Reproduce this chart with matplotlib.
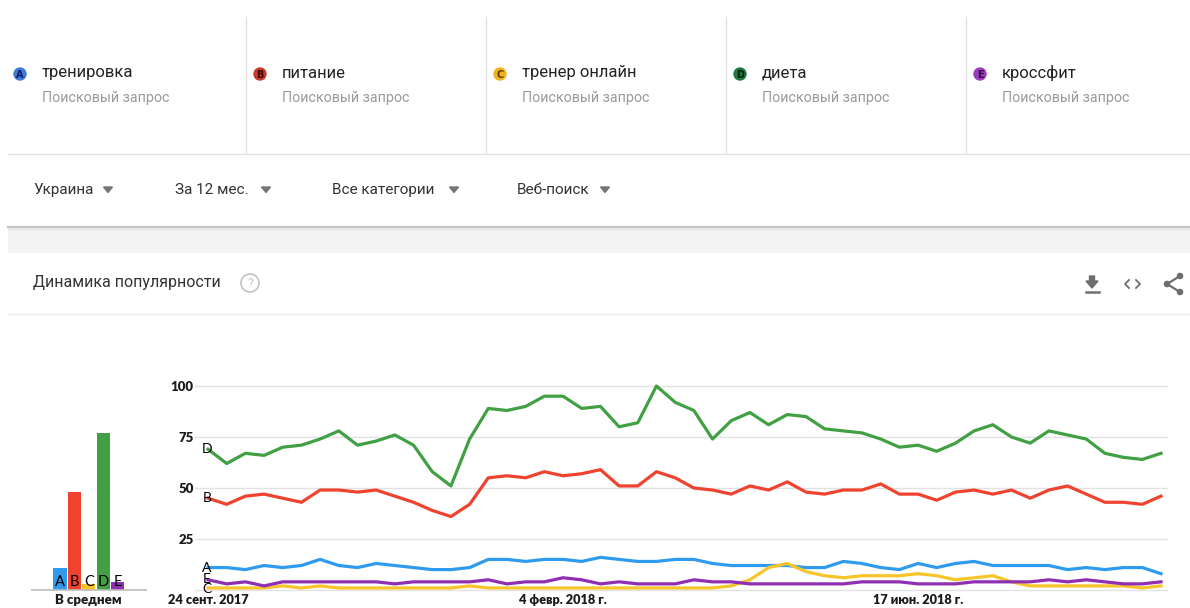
#!/usr/bin/env python3
import matplotlib
matplotlib.use("Agg")
import matplotlib.pyplot as plt
from matplotlib.patches import Circle, Polygon, Rectangle

plt.rcParams['font.family'] = ['Roboto', 'DejaVu Sans']

W, H = 1190, 608

# weekly values, 24 Sep 2017 .. 16 Sep 2018
trening = [11, 11, 10, 12, 11, 12, 15, 12, 11, 13, 12, 11, 10, 10, 11, 15, 15, 14, 15, 15,
           14, 16, 15, 14, 14, 15, 15, 13, 12, 12, 12, 12, 11, 11, 14, 13, 11, 10, 13, 11,
           13, 14, 12, 12, 12, 12, 10, 11, 10, 11, 11, 8]
pitanie = [45, 42, 46, 47, 45, 43, 49, 49, 48, 49, 46, 43, 39, 36, 42, 55, 56, 55, 58, 56,
           57, 59, 51, 51, 58, 55, 50, 49, 47, 51, 49, 53, 48, 47, 49, 49, 52, 47, 47, 44,
           48, 49, 47, 49, 45, 49, 51, 47, 43, 43, 42, 46]
trener = [1, 1, 1, 1, 2, 1, 2, 1, 1, 1, 1, 1, 1, 1, 2, 1, 1, 1, 1, 1,
          1, 1, 1, 1, 1, 1, 1, 1, 2, 5, 11, 13, 9, 7, 6, 7, 7, 7, 8, 7,
          5, 6, 7, 4, 2, 2, 2, 2, 2, 2, 1, 2]
dieta = [69, 62, 67, 66, 70, 71, 74, 78, 71, 73, 76, 71, 58, 51, 74, 89, 88, 90, 95, 95,
         89, 90, 80, 82, 100, 92, 88, 74, 83, 87, 81, 86, 85, 79, 78, 77, 74, 70, 71, 68,
         72, 78, 81, 75, 72, 78, 76, 74, 67, 65, 64, 67]
crossfit = [5, 3, 4, 2, 4, 4, 4, 4, 4, 4, 3, 4, 4, 4, 4, 5, 3, 4, 4, 6,
            5, 3, 4, 3, 3, 3, 5, 4, 4, 3, 3, 3, 3, 3, 3, 4, 4, 4, 3, 3,
            3, 4, 4, 4, 4, 5, 4, 5, 4, 3, 3, 4]

letters = ['A', 'B', 'C', 'D', 'E']
terms = ['тренировка', 'питание', 'тренер онлайн', 'диета', 'кроссфит']
averages = [11, 48, 3, 77, 4]
colors = ['#2f9bef', '#f0432f', '#f7c52a', '#41a043', '#8f2fb3']
badge_colors = ['#3f78d8', '#c8382c', '#f2b21b', '#1d7a3c', '#9b3dc0']
badge_text = ['#0c1f5c', '#3a0905', '#5a3d00', '#041d0b', '#2e0940']
tick_pos = [0, 19, 38]
tick_labels = ['24 сент. 2017', '4 февр. 2018 г.', '17 июн. 2018 г.']
filters = ['Украина', 'За 12 мес.', 'Все категории', 'Веб-поиск']

chart_font = ['Lato', 'DejaVu Sans']

fig = plt.figure(figsize=(11.9, 6.08), dpi=100)


def px_axes(x0, y0, x1, y1):
    return fig.add_axes([x0 / W, 1 - y1 / H, (x1 - x0) / W, (y1 - y0) / H])


# page background drawn in pixel coordinates
bg = px_axes(0, 0, W, H)
bg.set_xlim(0, W)
bg.set_ylim(H, 0)
bg.axis('off')

# header with search terms
for i, (term, bc, tc) in enumerate(zip(terms, badge_colors, badge_text)):
    x0 = 20 + 240 * i
    bg.add_patch(Circle((x0, 74), 6, color=bc))
    bg.text(x0, 74.5, letters[i], fontsize=7, fontweight='bold', color=tc, ha='center', va='center',
            family=['DejaVu Sans'])
    bg.text(x0 + 22, 73, term, fontsize=12, color='#222222', va='center')
    bg.text(x0 + 22, 98, 'Поисковый запрос', fontsize=10.3, color='#9a9a9a', va='center')
    if i > 0:
        bg.plot([6 + 240 * i, 6 + 240 * i], [17, 154], color='#e4e4e4', lw=1)
bg.plot([8, W], [154, 154], color='#e4e4e4', lw=1)

# filter row
fx = [33, 175, 332, 517]
for x0, label in zip(fx, filters):
    bg.text(x0, 190, label, fontsize=11, color='#333333', va='center')
tri_x = [108, 266, 454, 605]
for tx in tri_x:
    bg.add_patch(Polygon([[tx - 4.5, 187], [tx + 4.5, 187], [tx, 192.5]], color='#757575'))

# grey band
bg.add_patch(Rectangle((8, 226), W - 8, 27, color='#f4f4f4', lw=0))
bg.plot([8, W], [226.5, 226.5], color='#c3c3c3', lw=1.5)
bg.plot([8, W], [228.5, 228.5], color='#e2e2e2', lw=1)

# card title row
bg.text(33, 283, 'Динамика популярности', fontsize=11.5, color='#333333', va='center')
bg.add_patch(Circle((250, 283), 9, fill=False, ec='#c6c6c6', lw=1.3))
bg.text(250, 283.5, '?', fontsize=9, color='#c6c6c6', ha='center', va='center')
bg.plot([8, W], [314, 314], color='#ececec', lw=1)

# icons
ic = '#6e6e6e'
bg.add_patch(Polygon([[1089.5, 276], [1094.5, 276], [1094.5, 281], [1098, 281], [1092, 288],
                      [1086, 281], [1089.5, 281]], color=ic))
bg.plot([1085.5, 1098.5], [291.5, 291.5], color=ic, lw=1.8)
bg.plot([1129, 1125, 1129], [280, 284, 288], color=ic, lw=1.3)
bg.plot([1136, 1140, 1136], [280, 284, 288], color=ic, lw=1.3)
bg.plot([1180, 1167, 1180], [276, 284, 292], color=ic, lw=1.6)
for cx, cy in [(1180, 276), (1167, 284), (1180, 292)]:
    bg.add_patch(Circle((cx, cy), 2.6, color=ic))

# line chart, index 0 at x=208px, 51 at x=1161px, value 0 at y=590px, 100 at y=386px
step = (1161 - 208) / 51
unit = (590 - 386) / 100
ax = px_axes(195, 378, 1168, 593)
ax.set_xlim(-(208 - 195) / step, 51 + (1168 - 1161) / step)
ax.set_ylim(-(593 - 590) / unit, (590 - 378) / unit)
for s in ax.spines.values():
    s.set_visible(False)
ax.set_yticks([0, 25, 50, 75, 100])
ax.grid(axis='y', color='#e2e2e2', lw=1)
ax.set_axisbelow(True)
ax.tick_params(length=0)
ax.set_yticklabels(['', '25', '50', '75', '100'], fontsize=9.5, fontweight='heavy', color='#1a1a1a',
                   family=chart_font)
ax.set_xticks(tick_pos)
ax.set_xticklabels(tick_labels, fontsize=9.2, fontweight='heavy', color='#1a1a1a',
                   family=chart_font)
ax.tick_params(axis='x', pad=1)
ax.tick_params(axis='y', pad=1)
ax.patch.set_alpha(0)

series = [trening, pitanie, trener, dieta, crossfit]
weeks = list(range(len(dieta)))
for vals, col in zip(series, colors):
    ax.plot(weeks, vals, color=col, lw=2.3, solid_joinstyle='round', clip_on=False)

label_y = {'D': 69, 'B': 45, 'A': 11, 'E': 5.5, 'C': 0.5}
for letter, yv in label_y.items():
    ax.text(-0.05, yv, letter, fontsize=10, color='black', ha='center', va='center',
            family=chart_font)

# average bars
bx = px_axes(31, 378, 147, 593)
bx.set_ylim(-(593 - 590) / unit, (590 - 378) / unit)
pos = list(range(len(averages)))
bx.bar(pos, averages, width=0.93, color=colors)
bx.set_xlim(-(60 - 31) / 14.4, 4 + (147 - 117.6) / 14.4)
bx.axhline(0, color='#bdbdbd', lw=1.2)
for p, letter in zip(pos, letters):
    bx.text(p, 4, letter, fontsize=10.5, ha='center', va='center', color='black',
            family=chart_font)
bx.set_xticks([2])
bx.set_xticklabels(['В среднем'], fontsize=9.5, fontweight='heavy', color='#1a1a1a',
                   family=chart_font)
bx.tick_params(length=0, pad=1)
bx.set_yticks([])
for s in bx.spines.values():
    s.set_visible(False)
bx.patch.set_alpha(0)

fig.savefig('out.png', dpi=100, facecolor='white')
